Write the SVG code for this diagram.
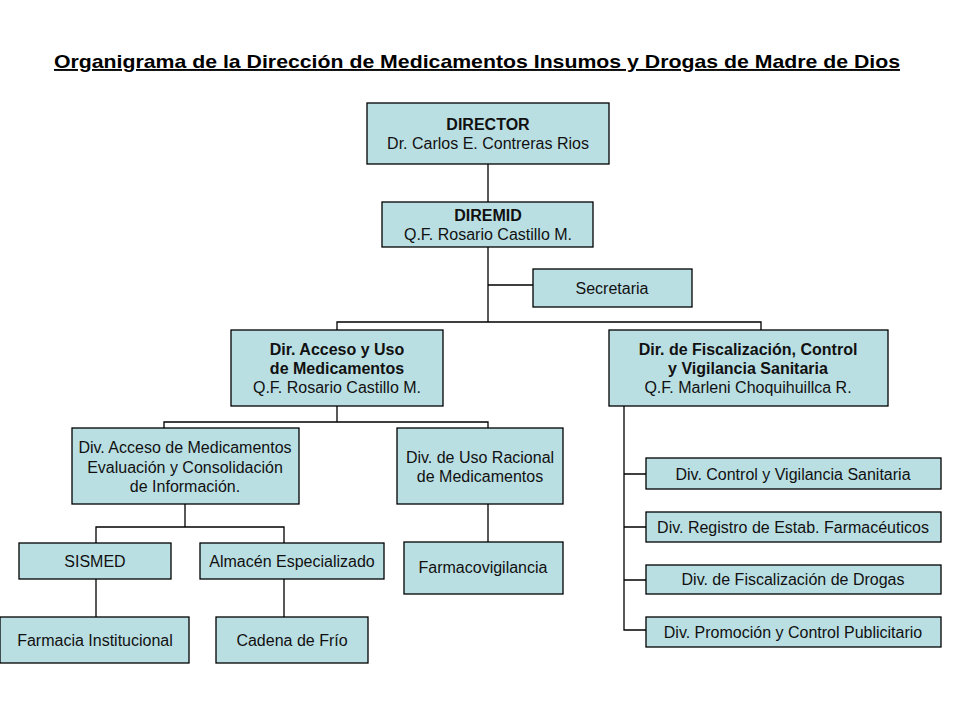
<svg xmlns="http://www.w3.org/2000/svg" width="960" height="720" viewBox="0 0 960 720">
<style>
.box{fill:#BADFE3;stroke:#000;stroke-width:1.3}
.t{font-family:"Liberation Sans",Arial,sans-serif;font-size:16px;fill:#111;text-anchor:middle}
.b{font-weight:bold}
.c{fill:none;stroke:#000;stroke-width:1.3}
</style>
<rect width="960" height="720" fill="#fff"/>
<text x="477" y="68" font-family="Liberation Sans, Arial, sans-serif" font-size="19" font-weight="bold" text-anchor="middle" text-decoration="underline" textLength="846" lengthAdjust="spacingAndGlyphs">Organigrama de la Dirección de Medicamentos Insumos y Drogas de Madre de Dios</text>
<g id="connectors">
<path class="c" d="M488 164V322M488 285H533M337 330V322H761V330"/>
<path class="c" d="M337 406V422M164 428V422H488V428"/>
<path class="c" d="M185 504V527M96 543V527H284V543"/>
<path class="c" d="M96 579V617M284 579V617M488 504V542"/>
<path class="c" d="M624 406V630H646M624 474H646M624 527H646M624 580H646"/>
</g>
<g id="director"><rect class="box" x="367" y="103" width="242" height="61"/><text class="t b" x="488" y="130">DIRECTOR</text><text class="t" x="488" y="149">Dr. Carlos E. Contreras Rios</text></g>
<g id="diremid"><rect class="box" x="382" y="202" width="211" height="45"/><text class="t b" x="488" y="221">DIREMID</text><text class="t" x="488" y="240">Q.F. Rosario Castillo M.</text></g>
<g id="secretaria"><rect class="box" x="533" y="269" width="159" height="38"/><text class="t" x="612" y="294">Secretaria</text></g>
<g id="dir-acceso"><rect class="box" x="231" y="330" width="212" height="76"/><text class="t b" x="337" y="355">Dir. Acceso y Uso</text><text class="t b" x="337" y="374">de Medicamentos</text><text class="t" x="337" y="393">Q.F. Rosario Castillo M.</text></g>
<g id="dir-fiscal"><rect class="box" x="609" y="330" width="279" height="76"/><text class="t b" x="748" y="355">Dir. de Fiscalización, Control</text><text class="t b" x="748" y="374">y Vigilancia Sanitaria</text><text class="t" x="748" y="393">Q.F. Marleni Choquihuillca R.</text></g>
<g id="div-acceso"><rect class="box" x="72" y="428" width="227" height="76"/><text class="t" x="185" y="453">Div. Acceso de Medicamentos</text><text class="t" x="185" y="473">Evaluación y Consolidación</text><text class="t" x="185" y="492">de Información.</text></g>
<g id="div-uso"><rect class="box" x="397" y="428" width="166" height="76"/><text class="t" x="480" y="463">Div. de Uso Racional</text><text class="t" x="480" y="482">de Medicamentos</text></g>
<g id="sismed"><rect class="box" x="19" y="543" width="152" height="36"/><text class="t" x="95" y="567">SISMED</text></g>
<g id="almacen"><rect class="box" x="200" y="543" width="184" height="36"/><text class="t" x="292" y="567">Almacén Especializado</text></g>
<g id="farmacovigilancia"><rect class="box" x="404" y="542" width="159" height="52"/><text class="t" x="483" y="573">Farmacovigilancia</text></g>
<g id="farmacia"><rect class="box" x="0" y="617" width="189" height="46"/><text class="t" x="95" y="646">Farmacia Institucional</text></g>
<g id="cadena"><rect class="box" x="216" y="617" width="152" height="46"/><text class="t" x="292" y="646">Cadena de Frío</text></g>
<g id="div-control"><rect class="box" x="646" y="458" width="295" height="31"/><text class="t" x="793" y="480">Div. Control y Vigilancia Sanitaria</text></g>
<g id="div-registro"><rect class="box" x="646" y="512" width="295" height="30"/><text class="t" x="793" y="533">Div. Registro de Estab. Farmacéuticos</text></g>
<g id="div-fiscalizacion"><rect class="box" x="646" y="565" width="295" height="29"/><text class="t" x="793" y="585">Div. de Fiscalización de Drogas</text></g>
<g id="div-promocion"><rect class="box" x="646" y="617" width="295" height="30"/><text class="t" x="793" y="638">Div. Promoción y Control Publicitario</text></g>
</svg>
